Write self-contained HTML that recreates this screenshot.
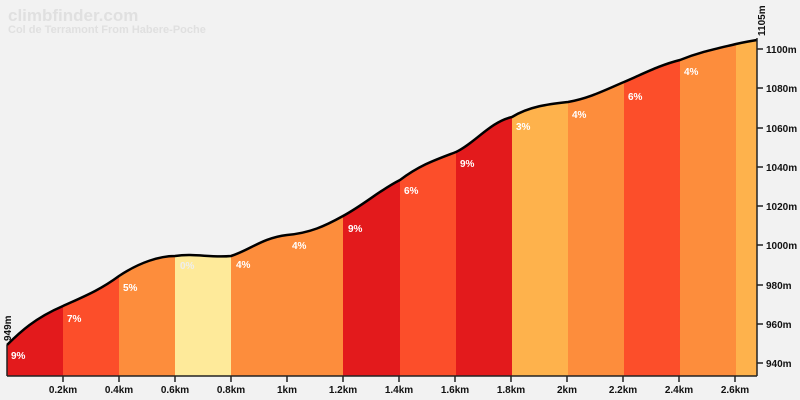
<!DOCTYPE html>
<html><head><meta charset="utf-8"><style>
html,body{margin:0;padding:0;background:#f2f2f2;width:800px;height:400px;overflow:hidden}
text{font-family:"Liberation Sans",sans-serif;font-weight:bold}
</style></head><body>
<svg width="800" height="400" xmlns="http://www.w3.org/2000/svg">
<defs><clipPath id="c"><path id="a" d="M7,345 C20,332 35,318 63,306 C85,296 100,290 119,276 C140,262 160,256 175,256 C195,253 210,258 231,256 C250,250 262,238 287,235 C310,233 325,226 343,216 C365,204 380,190 400,180 C420,165 435,160 456,152 C475,143 490,122 512,117 C530,106 550,104 568,102 C590,98 605,90 624,82 C645,73 660,65 680,60 C700,52 715,49 736,44 C745,42 750,41 757,40 L757,376 L7,376 Z"/></clipPath></defs>
<text x="8" y="21" font-size="17" fill="#e0e0e0">climbfinder.com</text>
<text x="8" y="33" font-size="11" fill="#e0e0e0">Col de Terramont From Habere-Poche</text>
<g clip-path="url(#c)">
<rect x="7" y="0" width="56" height="376" fill="#e31a1c"/>
<rect x="63" y="0" width="56" height="376" fill="#fc4e2a"/>
<rect x="119" y="0" width="56" height="376" fill="#fd8d3c"/>
<rect x="175" y="0" width="56" height="376" fill="#feea9a"/>
<rect x="231" y="0" width="112" height="376" fill="#fd8d3c"/>
<rect x="343" y="0" width="57" height="376" fill="#e31a1c"/>
<rect x="400" y="0" width="56" height="376" fill="#fc4e2a"/>
<rect x="456" y="0" width="56" height="376" fill="#e31a1c"/>
<rect x="512" y="0" width="56" height="376" fill="#feb24c"/>
<rect x="568" y="0" width="56" height="376" fill="#fd8d3c"/>
<rect x="624" y="0" width="56" height="376" fill="#fc4e2a"/>
<rect x="680" y="0" width="56" height="376" fill="#fd8d3c"/>
<rect x="736" y="0" width="21" height="376" fill="#feb24c"/>
</g>
<path d="M7,345 C20,332 35,318 63,306 C85,296 100,290 119,276 C140,262 160,256 175,256 C195,253 210,258 231,256 C250,250 262,238 287,235 C310,233 325,226 343,216 C365,204 380,190 400,180 C420,165 435,160 456,152 C475,143 490,122 512,117 C530,106 550,104 568,102 C590,98 605,90 624,82 C645,73 660,65 680,60 C700,52 715,49 736,44 C745,42 750,41 757,40" fill="none" stroke="#000" stroke-width="2.5"/>
<g font-size="10" fill="#fff">
<text x="11" y="359">9%</text><text x="67" y="322">7%</text><text x="123" y="291">5%</text>
<text x="180" y="269" fill="#eee">0%</text><text x="236" y="268">4%</text><text x="292" y="249">4%</text>
<text x="348" y="232">9%</text><text x="404" y="194">6%</text><text x="460" y="167">9%</text>
<text x="516" y="130">3%</text><text x="572" y="118">4%</text><text x="628" y="100">6%</text><text x="684" y="75">4%</text>
</g>
<g stroke="#222" stroke-width="1.5">
<line x1="7" y1="376" x2="757" y2="376"/>
<line x1="757" y1="38" x2="757" y2="376"/>
<line x1="7" y1="345" x2="7" y2="376"/>
</g>
<g stroke="#222" stroke-width="1.5">
<line x1="63" y1="376" x2="63" y2="382"/><line x1="119" y1="376" x2="119" y2="382"/><line x1="175" y1="376" x2="175" y2="382"/><line x1="231" y1="376" x2="231" y2="382"/><line x1="287" y1="376" x2="287" y2="382"/><line x1="343" y1="376" x2="343" y2="382"/><line x1="399" y1="376" x2="399" y2="382"/><line x1="455" y1="376" x2="455" y2="382"/><line x1="511" y1="376" x2="511" y2="382"/><line x1="567" y1="376" x2="567" y2="382"/><line x1="623" y1="376" x2="623" y2="382"/><line x1="679" y1="376" x2="679" y2="382"/><line x1="735" y1="376" x2="735" y2="382"/>
<line x1="757" y1="49" x2="763" y2="49"/><line x1="757" y1="88" x2="763" y2="88"/><line x1="757" y1="128" x2="763" y2="128"/><line x1="757" y1="167" x2="763" y2="167"/><line x1="757" y1="206" x2="763" y2="206"/><line x1="757" y1="245" x2="763" y2="245"/><line x1="757" y1="285" x2="763" y2="285"/><line x1="757" y1="324" x2="763" y2="324"/><line x1="757" y1="363" x2="763" y2="363"/>
</g>
<g font-size="10" fill="#111" text-anchor="middle">
<text x="63" y="393">0.2km</text><text x="119" y="393">0.4km</text><text x="175" y="393">0.6km</text><text x="231" y="393">0.8km</text><text x="287" y="393">1km</text><text x="343" y="393">1.2km</text><text x="399" y="393">1.4km</text><text x="455" y="393">1.6km</text><text x="511" y="393">1.8km</text><text x="567" y="393">2km</text><text x="623" y="393">2.2km</text><text x="679" y="393">2.4km</text><text x="735" y="393">2.6km</text>
</g>
<g font-size="10" fill="#111">
<text x="766" y="53">1100m</text><text x="766" y="92">1080m</text><text x="766" y="132">1060m</text><text x="766" y="171">1040m</text><text x="766" y="210">1020m</text><text x="766" y="249">1000m</text><text x="766" y="289">980m</text><text x="766" y="328">960m</text><text x="766" y="367">940m</text>
</g>
<text transform="translate(765,36) rotate(-90)" font-size="10" fill="#111">1105m</text>
<text transform="translate(11,341) rotate(-90)" font-size="10" fill="#111">949m</text>
</svg>
</body></html>
